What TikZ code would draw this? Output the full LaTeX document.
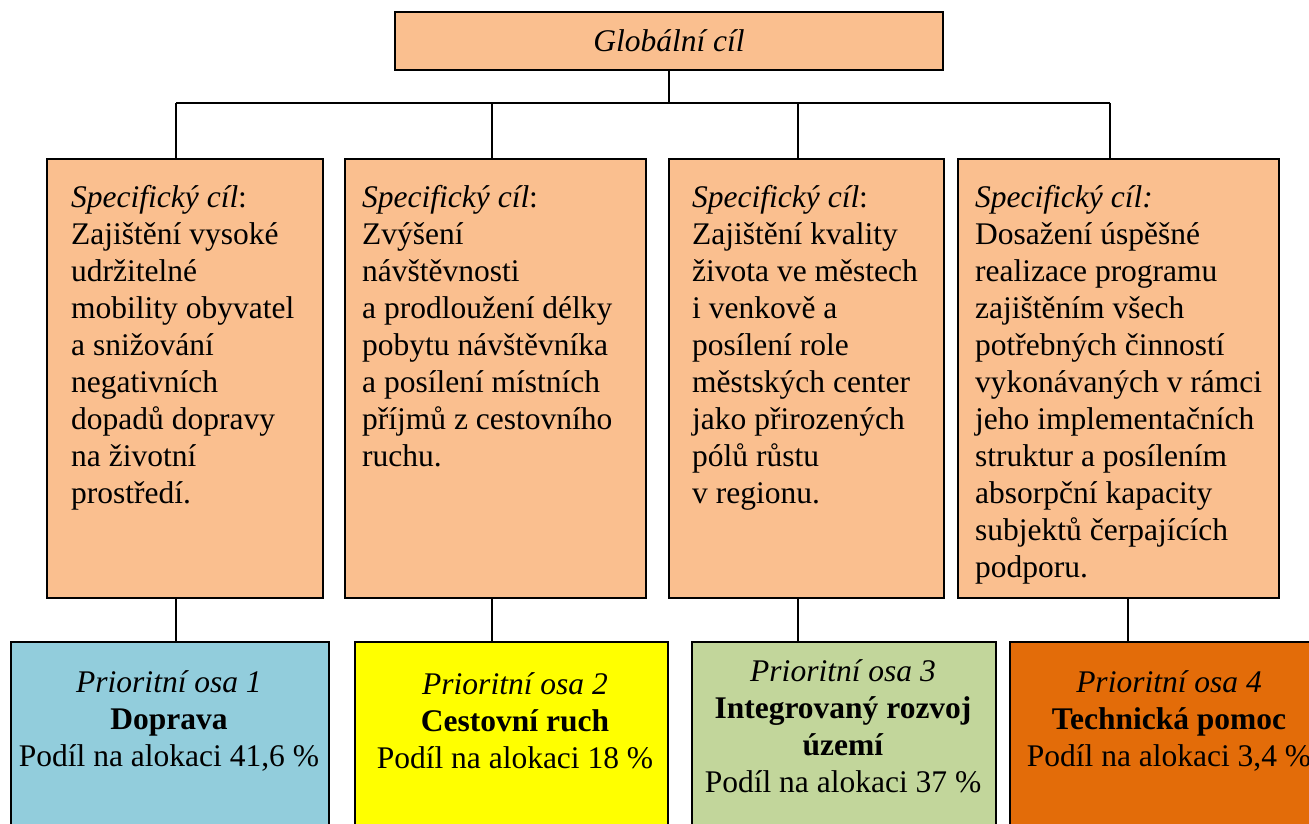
\documentclass[tikz,border=0pt]{standalone}
\usepackage{fontspec}
\setmainfont{Liberation Serif}
\definecolor{peach}{HTML}{FABF8F}
\definecolor{osablue}{HTML}{92CDDC}
\definecolor{osayellow}{HTML}{FFFF00}
\definecolor{osagreen}{HTML}{C2D69B}
\definecolor{osaorange}{HTML}{E36C09}
\tikzset{
  box/.style={draw=black,line width=1.6pt,inner sep=0pt,anchor=north west},
  cil/.style={box,fill=peach,minimum height=439pt},
  osa/.style={box,minimum height=220pt},
  txt/.style={inner sep=0pt,font=\fontsize{31.5}{37}\selectfont},
  ciltxt/.style={txt,anchor=north west,align=left},
  osatxt/.style={txt,align=center},
  link/.style={line width=1.5pt}
}
\begin{document}
\begin{tikzpicture}[x=1pt,y=-1pt]
	\path[use as bounding box,clip] (0,0) rectangle (1309,824);
	\fill[white] (0,0) rectangle (1309,824);
	% globalni cil
	\node[box,fill=peach,anchor=center,minimum width=548pt,minimum height=58pt,
		font=\fontsize{31.5}{37}\selectfont] (glob) at (669,41)
		{\textit{Globální cíl}};
	% specificke cile
	\node[cil,minimum width=276pt] (s1) at ( 46,158) {};
	\node[cil,minimum width=301pt] (s2) at (344,158) {};
	\node[cil,minimum width=275pt] (s3) at (668,158) {};
	\node[cil,minimum width=321pt] (s4) at (957,158) {};
	\node[ciltxt] (s1t) at ( 71,185)
		{\textit{Specifický cíl}:\\Zajištění vysoké\\udržitelné\\mobility obyvatel\\
		a snižování\\negativních\\dopadů dopravy\\na životní\\prostředí.};
	\node[ciltxt] (s2t) at (362,185)
		{\textit{Specifický cíl}:\\Zvýšení\\návštěvnosti\\a prodloužení délky\\
		pobytu návštěvníka\\a posílení místních\\příjmů z cestovního\\ruchu.};
	\node[ciltxt] (s3t) at (692,185)
		{\textit{Specifický cíl}:\\Zajištění kvality\\života ve městech\\i venkově a\\
		posílení role\\městských center\\jako přirozených\\pólů růstu\\v regionu.};
	\node[ciltxt] (s4t) at (975,185)
		{\textit{Specifický cíl:}\\Dosažení úspěšné\\realizace programu\\zajištěním všech\\
		potřebných činností\\vykonávaných v rámci\\jeho implementačních\\
		struktur a posílením\\absorpční kapacity\\subjektů čerpajících\\podporu.};
	% prioritni osy
	\node[osa,fill=osablue,minimum width=318pt] (p1) at (  10,641) {};
	\node[osa,fill=osayellow,minimum width=313pt] (p2) at ( 354,641) {};
	\node[osa,fill=osagreen,minimum width=304pt] (p3) at ( 691,641) {};
	\node[osa,fill=osaorange,minimum width=320pt] (p4) at (1009,641) {};
	\node[osatxt] (p1t) at ( 169,721)
		{\textit{Prioritní osa 1}\\\textbf{Doprava}\\Podíl na alokaci 41,6 \%};
	\node[osatxt] (p2t) at ( 515,721)
		{\textit{Prioritní osa 2}\\\textbf{Cestovní ruch}\\Podíl na alokaci 18 \%};
	\node[osatxt] (p3t) at ( 843,726)
		{\textit{Prioritní osa 3}\\\textbf{Integrovaný rozvoj}\\\textbf{území}\\
		Podíl na alokaci 37 \%};
	\node[osatxt] (p4t) at (1169,721)
		{\textit{Prioritní osa 4}\\\textbf{Technická pomoc}\\Podíl na alokaci 3,4 \%};
	% spojnice
	\foreach \i/\x in {1/176,2/492,3/798,4/1110}
		\coordinate (b\i) at (\x,103);
	\foreach \i/\x in {1/176,2/492,3/798,4/1128}
		\coordinate (d\i) at (\x,619);
	\draw[link] (glob.south) -- (glob.south |- b1);
	\draw[link] (b1) -- (b4);
	\foreach \i in {1,...,4}{
		\draw[link] (b\i) -- (b\i |- s\i.north);
		\draw[link] (d\i |- s\i.south) -- (d\i |- p\i.north);
	}
\end{tikzpicture}
\end{document}
